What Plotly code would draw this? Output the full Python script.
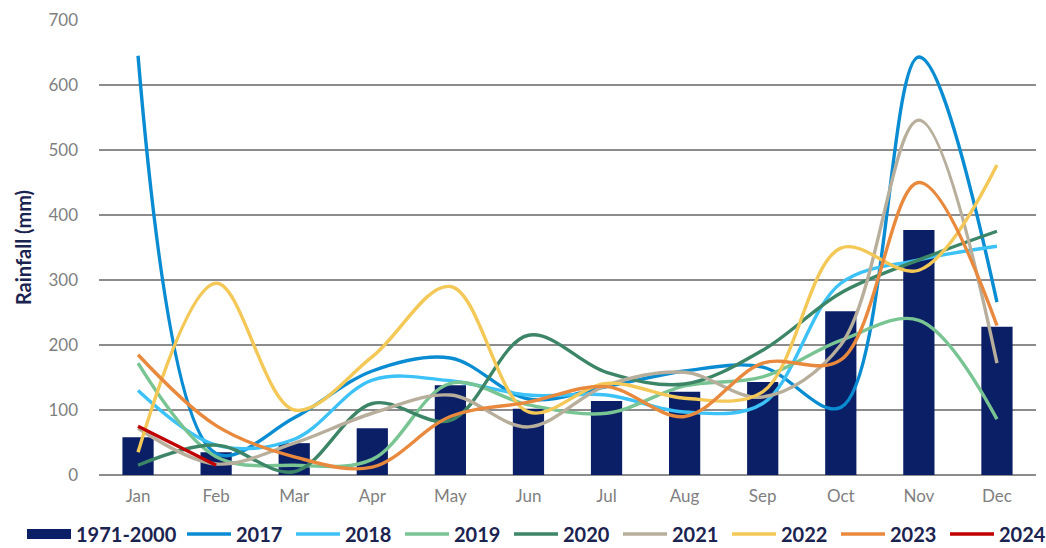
import plotly.graph_objects as go

months = ["Jan", "Feb", "Mar", "Apr", "May", "Jun", "Jul", "Aug", "Sep", "Oct", "Nov", "Dec"]

# Long-term monthly mean (mm)
normal_1971_2000 = [58, 35, 49, 72, 138, 102, 114, 128, 143, 252, 377, 228]

# Monthly rainfall by year (mm)
rain_2017 = [645, 33, 88, 160, 180, 117, 136, 160, 166, 104, 643, 266]
rain_2018 = [130, 46, 55, 146, 145, 123, 123, 97, 110, 295, 331, 352]
rain_2019 = [172, 28, 15, 24, 141, 108, 95, 137, 151, 207, 238, 86]
rain_2020 = [15, 46, 5, 110, 84, 215, 158, 140, 192, 280, 331, 375]
rain_2021 = [72, 17, 49, 95, 123, 74, 138, 158, 120, 200, 546, 172]
rain_2022 = [35, 295, 100, 182, 290, 97, 141, 118, 128, 349, 315, 477]
rain_2023 = [185, 76, 28, 12, 90, 112, 136, 90, 172, 177, 450, 230]
rain_2024 = [75, 15]

series = [
    ("2017", rain_2017, "#0A8CD2"),
    ("2018", rain_2018, "#3DC2F7"),
    ("2019", rain_2019, "#78C493"),
    ("2020", rain_2020, "#3C8566"),
    ("2021", rain_2021, "#B8AE9C"),
    ("2022", rain_2022, "#F4C856"),
    ("2023", rain_2023, "#E8893E"),
    ("2024", rain_2024, "#C00000"),
]

bar_color = "#0B1F66"
navy = "#1B2450"

fig = go.Figure()
fig.add_trace(go.Bar(
    x=months, y=normal_1971_2000, name="1971-2000",
    marker=dict(color=bar_color, line=dict(width=0)), width=0.4,
    legendgroup="normal", showlegend=False,
))
# legend key for the bars: a wide filled block
fig.add_trace(go.Scatter(
    x=[None], y=[None], name="1971-2000", mode="lines",
    line=dict(color=bar_color, width=13), legendgroup="normal", legend="legend",
))
for name, vals, color in series:
    fig.add_trace(go.Scatter(
        x=months[:len(vals)], y=vals, name=name, mode="lines",
        line=dict(color=color, width=3.4, shape="spline", smoothing=1.0),
        legend="legend2",
    ))

legend_font = dict(size=20, color=navy, family="Lato, sans-serif", weight="bold")
legend_y = 14 / 548
fig.update_layout(
    width=1046, height=548,
    margin=dict(l=99, r=10, t=20, b=73, autoexpand=False),
    paper_bgcolor="white", plot_bgcolor="white",
    font=dict(family="Lato, Open Sans, sans-serif", color="#7F7F7F", size=16),
    showlegend=True,
    legend=dict(
        orientation="h", x=22 / 1046, xanchor="left", xref="container",
        y=legend_y, yanchor="middle", yref="container",
        font=legend_font, itemwidth=44, entrywidth=0,
    ),
    legend2=dict(
        orientation="h", x=182 / 1046, xanchor="left", xref="container",
        y=legend_y, yanchor="middle", yref="container",
        font=legend_font, traceorder="normal", itemwidth=44,
        entrywidth=50, entrywidthmode="pixels",
    ),
    bargap=0.6,
)
fig.update_xaxes(
    showline=False, showgrid=False, ticks="", tickfont=dict(size=17, color="#7F7F7F"),
    ticklabelstandoff=9,
)
fig.update_yaxes(
    range=[0, 700], dtick=100, showgrid=True, gridcolor="#8C8C8C", gridwidth=1.8,
    zeroline=True, zerolinecolor="#8C8C8C", zerolinewidth=1.8,
    ticks="", tickfont=dict(size=17, color="#7F7F7F"), ticklabelstandoff=20,
    title=dict(text="Rainfall (mm)", font=dict(size=20, color=navy, weight="bold"), standoff=11),
)

fig.write_html("out.html")
